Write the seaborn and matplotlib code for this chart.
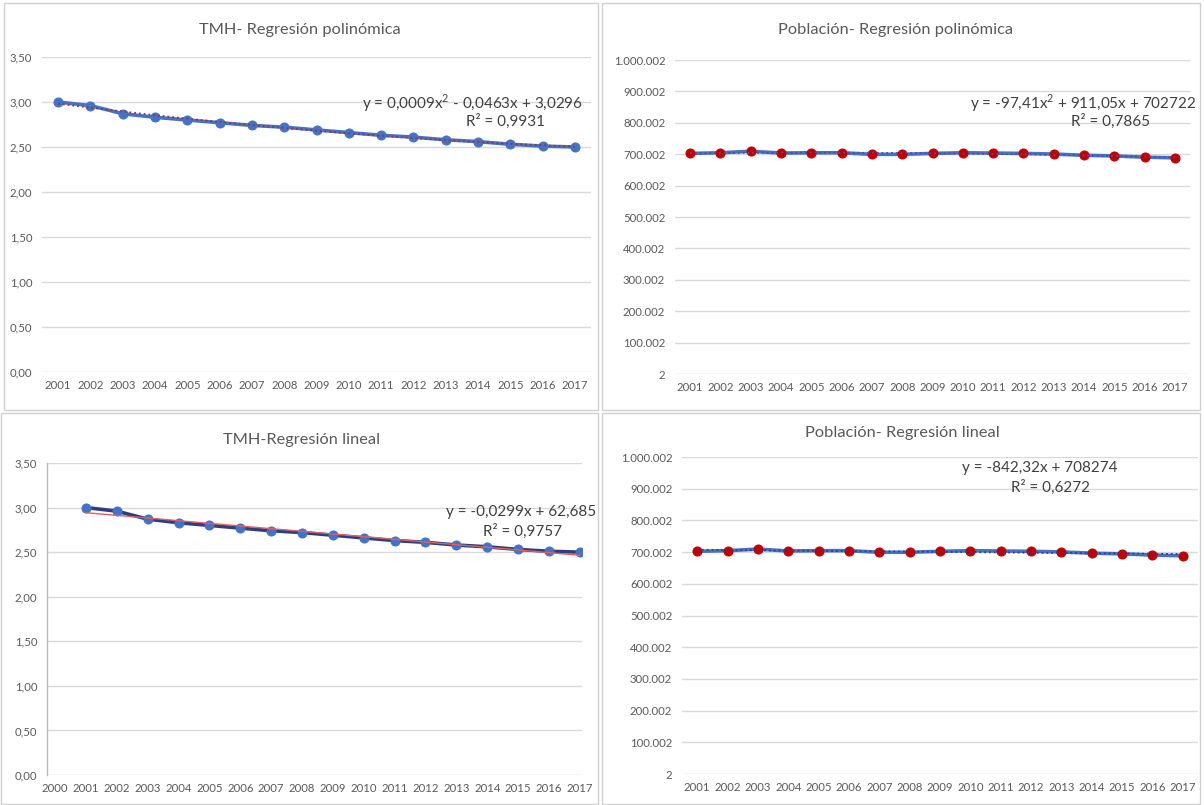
import numpy as np
import pandas as pd
import matplotlib
matplotlib.use("Agg")
import matplotlib.pyplot as plt
import seaborn as sns
from matplotlib.patches import Rectangle
from matplotlib.ticker import FuncFormatter

years = list(range(2001, 2018))
tmh = [3.00, 2.96, 2.87, 2.83, 2.80, 2.77, 2.74, 2.72, 2.69, 2.66, 2.63, 2.61, 2.58, 2.56, 2.53, 2.51, 2.50]
poblacion = [702500, 704500, 709500, 703500, 704500, 704500, 699500, 699500, 702500, 704500,
             703500, 702500, 700500, 696500, 694500, 690500, 688500]

titles = ["TMH- Regresión polinómica", "Población- Regresión polinómica",
          "TMH-Regresión lineal", "Población- Regresión lineal"]
eq_lines = [("y = 0,0009x$^2$ - 0,0463x + 3,0296", "R² = 0,9931"),
            ("y = -97,41x$^2$ + 911,05x + 702722", "R² = 0,7865"),
            ("y = -0,0299x + 62,685", "R² = 0,9757"),
            ("y = -842,32x + 708274", "R² = 0,6272")]
tmh_ticks = [0, 0.5, 1.0, 1.5, 2.0, 2.5, 3.0, 3.5]
pob_ticks = [2, 100002, 200002, 300002, 400002, 500002, 600002, 700002, 800002, 900002, 1000002]

sns.set_theme(style="white")
plt.rcParams['font.family'] = ['Lato', 'DejaVu Sans']
plt.rcParams['mathtext.fontset'] = 'custom'
plt.rcParams['mathtext.rm'] = 'Lato'

W, H = 1204, 805
fig = plt.figure(figsize=(W / 100, H / 100), dpi=100)

# panel frames
for (l, t, r, b) in [(4, 3, 598, 410), (602, 3, 1200, 410), (1, 413, 598, 804), (602, 413, 1200, 804)]:
    fig.patches.append(Rectangle((l / W, 1 - b / H), (r - l) / W, (b - t) / H,
                                 transform=fig.transFigure, fill=False,
                                 edgecolor="#D0D0D0", linewidth=1.0))


def ax_at(l, t, r, b):
    return fig.add_axes([l / W, 1 - b / H, (r - l) / W, (b - t) / H])


def fmt_tmh(v, p):
    return f"{v:.2f}".replace(".", ",")


def fmt_pob(v, p):
    return f"{int(round(v)):,}".replace(",", ".")


BLUE = "#4472C4"
RED = "#C00000"
GRAY = "#595959"

df_t = pd.DataFrame({"year": years, "val": tmh})
df_p = pd.DataFrame({"year": years, "val": poblacion})

specs = [
    dict(box=(42, 57, 591, 372), df=df_t, ticks=tmh_ticks, fmt=fmt_tmh, xlim=(2000.5, 2017.5),
         xt=years, deg=2, mcolor=BLUE, lcolor=BLUE, tcolor="#A0303A", tstyle=":", title=(300, 30),
         eq=(583, 103, 545, 121)),
    dict(box=(675, 60, 1190, 374), df=df_p, ticks=pob_ticks, fmt=fmt_pob, xlim=(2000.5, 2017.5),
         xt=years, deg=2, mcolor=RED, lcolor=BLUE, tcolor="#5A4A9A", tstyle=":", title=(896, 30),
         eq=(1196, 103, 1150, 121)),
    dict(box=(47, 463, 582, 775), df=df_t, ticks=tmh_ticks, fmt=fmt_tmh, xlim=(1999.74, 2017.07),
         xt=[2000] + years, deg=1, mcolor=BLUE, lcolor="#2B3F80", tcolor="#E06060", tstyle="-",
         title=(302, 440), eq=(596, 512, 562, 531)),
    dict(box=(682, 457, 1198, 774), df=df_p, ticks=pob_ticks, fmt=fmt_pob, xlim=(2000.5, 2017.5),
         xt=years, deg=1, mcolor=RED, lcolor=BLUE, tcolor="#3A3A8A", tstyle=":", title=(902, 433),
         eq=(1117, 468, 1090, 487)),
]

for i, s in enumerate(specs):
    l, t, r, b = s["box"]
    ax = ax_at(l, t, r, b)
    df = s["df"]
    sns.lineplot(data=df, x="year", y="val", ax=ax, color=s["lcolor"], linewidth=2.6,
                 marker="o", markersize=6.5, markerfacecolor=s["mcolor"],
                 markeredgecolor=s["mcolor"], zorder=3)
    # trendline from the data (fit over x = 1..n, like Excel)
    xi = np.arange(1, len(df) + 1)
    coef = np.polyfit(xi, df["val"], s["deg"])
    fit = np.polyval(coef, xi)
    ax.plot(df["year"], fit, color=s["tcolor"], linestyle=s["tstyle"],
            linewidth=1.3 if s["tstyle"] == ":" else 1.0, zorder=4)
    ax.set_ylim(s["ticks"][0], s["ticks"][-1])
    ax.set_yticks(s["ticks"])
    ax.yaxis.set_major_formatter(FuncFormatter(s["fmt"]))
    ax.set_xlim(*s["xlim"])
    ax.set_xticks(s["xt"])
    ax.set_xticklabels([str(y) for y in s["xt"]])
    ax.grid(axis="y", color="#D9D9D9", linewidth=1.0)
    ax.grid(axis="x", visible=False)
    ax.set_axisbelow(True)
    for sp in ax.spines.values():
        sp.set_visible(False)
    if i == 2:
        ax.spines["left"].set_visible(True)
        ax.spines["left"].set_color("#B8B8C8")
        ax.spines["left"].set_linewidth(1.0)
    ax.tick_params(axis="both", length=0, labelsize=8.2, colors=GRAY, pad=7)
    ax.tick_params(axis="x", pad=6)
    ax.set_xlabel("")
    ax.set_ylabel("")
    # title
    tx, ty = s["title"]
    fig.text(tx / W, 1 - ty / H, titles[i], ha="center", va="center",
             fontsize=11.8, color="#595959")
    ex1, ey1, ex2, ey2 = s["eq"]
    fig.text(ex1 / W, 1 - ey1 / H, eq_lines[i][0], ha="right", va="center", fontsize=11, color="#404040")
    fig.text(ex2 / W, 1 - ey2 / H, eq_lines[i][1], ha="right", va="center", fontsize=11, color="#404040")

fig.savefig("out.png", dpi=100)
